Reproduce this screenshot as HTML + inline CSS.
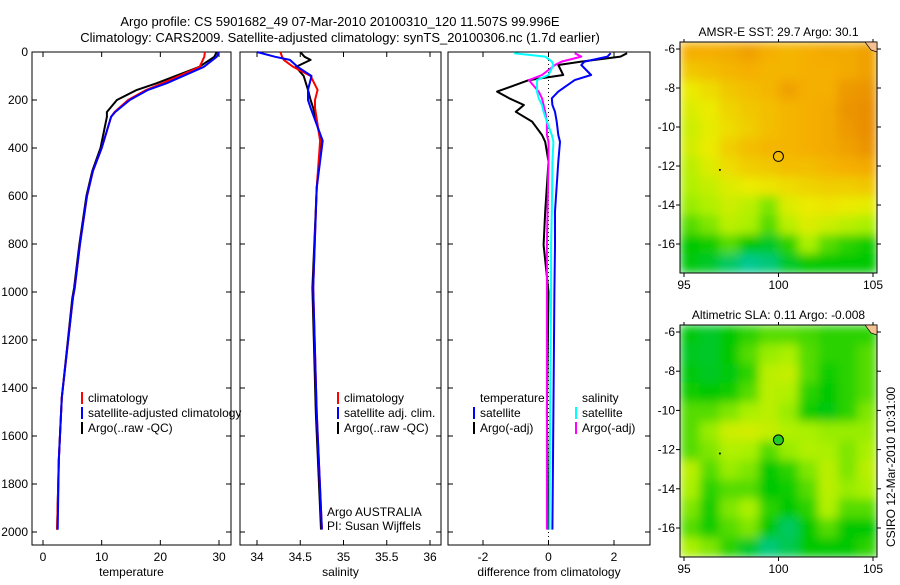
<!DOCTYPE html>
<html><head><meta charset="utf-8">
<style>
body{margin:0;background:#fff;font-family:"Liberation Sans",sans-serif;}
svg text{font-family:"Liberation Sans",sans-serif;fill:#000;}
</style></head>
<body>
<svg id="fig" width="900" height="580" viewBox="0 0 900 580" xmlns="http://www.w3.org/2000/svg">
<defs>
<filter id="blur" x="0" y="0" width="1" height="1"><feGaussianBlur stdDeviation="5" edgeMode="duplicate"/></filter>
<clipPath id="clip1"><rect x="680" y="42" width="197" height="231"/></clipPath>
<clipPath id="clip2"><rect x="680" y="325" width="197" height="232"/></clipPath>
</defs>
<rect width="900" height="580" fill="#fff"/>
<text x="340" y="26" font-size="13" text-anchor="middle">Argo profile: CS 5901682_49 07-Mar-2010 20100310_120 11.507S 99.996E</text>
<text x="340" y="42" font-size="13" text-anchor="middle">Climatology: CARS2009. Satellite-adjusted climatology: synTS_20100306.nc (1.7d earlier)</text>
<text transform="translate(895,547) rotate(-90)" font-size="12">CSIRO 12-Mar-2010 10:31:00</text>
<g id="g"></g>
</svg>
<script>
// ---- data ----
const depthTicks=[0,200,400,600,800,1000,1200,1400,1600,1800,2000];
const tempTicks=[0,10,20,30];
const salTicks=[34,34.5,35,35.5,36];
const diffTicks=[-2,0,2];
const tDepth=[0,20,62,130,158,200,250,270,400,496,600,800,983,1025,1440,1700,1990];
const tClim=[27.6,27.5,26.7,20.4,17.6,14.5,12.2,11.6,10.0,8.5,7.5,6.3,5.4,5.1,3.2,2.7,2.4];
const tSat=[30.0,29.6,27.4,21.1,17.9,14.8,12.3,11.6,10.0,8.5,7.5,6.3,5.4,5.1,3.2,2.7,2.5];
const tArgo=[29.6,29.2,26.6,19.4,16.0,12.6,10.9,10.9,9.8,8.4,7.4,6.2,5.3,5.0,3.2,2.7,2.4];
const sDepth=[0,20,33,62,100,158,200,233,370,567,983,1500,1990];
const sClim=[34.27,34.29,34.31,34.42,34.62,34.70,34.67,34.67,34.73,34.69,34.65,34.69,34.75];
const sSat=[34.0,34.21,34.38,34.47,34.63,34.59,34.59,34.62,34.76,34.69,34.65,34.69,34.75];
const sArgo=[34.5,34.55,34.62,34.45,34.54,34.59,34.62,34.65,34.74,34.69,34.64,34.68,34.74];
const dDepth=[5,19,40,54,96,117,165,193,221,249,290,346,374,457,665,804,999,1500,1990];
const dTempArgo=[2.4,2.2,1.0,0.3,0.45,-0.6,-1.57,-1.2,-0.75,-1.0,-0.5,-0.2,-0.1,0,-0.1,-0.15,0,-0.05,0];
const dTempSat=[1.9,1.8,1.1,1.0,1.3,0.8,0.3,0.1,0.12,0.2,0.25,0.3,0.35,0.3,0.2,0.2,0.18,0.15,0.12];
const dSalArgo=[0.8,1.0,0.4,0.2,-0.2,-0.6,-0.3,-0.2,-0.15,-0.1,-0.05,-0.05,0,0,-0.03,-0.05,-0.05,-0.05,-0.05];
const dSalSat=[-1.05,-0.1,0.1,0.15,0,-0.35,-0.35,-0.3,-0.2,-0.15,-0.05,0.1,0.15,0.12,0.1,0.08,0.08,0.05,0.03];
const mapLon=[95,100,105];
const mapLat=[-6,-8,-10,-12,-14,-16];
const sstGrid=[
[0.80,0.80,0.82,0.85,0.80,0.78,0.80,0.82,0.82,0.85],
[0.72,0.75,0.78,0.80,0.78,0.78,0.80,0.80,0.82,0.85],
[0.60,0.65,0.72,0.75,0.78,0.85,0.80,0.80,0.88,0.90],
[0.55,0.60,0.68,0.72,0.75,0.78,0.80,0.82,0.90,0.92],
[0.50,0.58,0.65,0.70,0.75,0.78,0.80,0.82,0.88,0.92],
[0.52,0.60,0.70,0.75,0.78,0.78,0.80,0.82,0.85,0.90],
[0.45,0.55,0.65,0.70,0.72,0.75,0.75,0.78,0.80,0.82],
[0.42,0.48,0.55,0.60,0.62,0.65,0.68,0.70,0.70,0.72],
[0.38,0.42,0.50,0.45,0.35,0.55,0.60,0.62,0.60,0.58],
[0.30,0.35,0.45,0.40,0.30,0.45,0.55,0.50,0.45,0.40],
[0.20,0.22,0.30,0.20,0.15,0.25,0.40,0.30,0.25,0.22],
[0.18,0.15,0.08,0.02,0.05,0.15,0.20,0.20,0.20,0.20]];
const slaGrid=[
[0.18,0.15,0.20,0.25,0.30,0.30,0.28,0.25,0.25,0.25],
[0.16,0.15,0.20,0.30,0.38,0.40,0.30,0.25,0.25,0.30],
[0.18,0.16,0.18,0.25,0.45,0.48,0.30,0.22,0.25,0.30],
[0.22,0.20,0.22,0.30,0.45,0.42,0.25,0.20,0.25,0.30],
[0.30,0.30,0.35,0.40,0.45,0.38,0.22,0.18,0.25,0.35],
[0.30,0.38,0.50,0.52,0.48,0.42,0.40,0.38,0.38,0.38],
[0.30,0.35,0.42,0.40,0.30,0.38,0.42,0.40,0.35,0.40],
[0.45,0.30,0.38,0.35,0.20,0.25,0.35,0.45,0.35,0.45],
[0.40,0.25,0.30,0.30,0.20,0.22,0.30,0.45,0.38,0.40],
[0.35,0.22,0.35,0.40,0.25,0.20,0.25,0.42,0.30,0.30],
[0.30,0.22,0.30,0.35,0.20,0.08,0.20,0.30,0.20,0.20],
[0.40,0.35,0.25,0.15,0.05,0.10,0.20,0.20,0.20,0.25]];

const NS="http://www.w3.org/2000/svg";
const g=document.getElementById('g');
function el(t,a,p){const e=document.createElementNS(NS,t);for(const k in a)e.setAttribute(k,a[k]);(p||g).appendChild(e);return e;}
const Y0=52,PX=0.24;
function yD(d){return Y0+PX*d;}

function panel(name,x0,x1,v0,p0,v1,p1,ticks,label,showY){
  const xs=v=>p0+(p1-p0)*(v-v0)/(v1-v0);
  const r=el('rect',{x:x0,y:52,width:x1-x0,height:493,fill:'none',stroke:'#000','stroke-width':1});
  
  
  ticks.forEach(t=>{
    const x=xs(t);
    el('line',{x1:x,x2:x,y1:545,y2:540,stroke:'#000'});
    el('line',{x1:x,x2:x,y1:52,y2:57,stroke:'#000'});
    const tx=el('text',{x:x,y:561,'font-size':12,'text-anchor':'middle'});tx.textContent=t;
    
    
  });
  const lb=el('text',{x:(x0+x1)/2,y:576,'font-size':12,'text-anchor':'middle'});lb.textContent=label;
  
  
  depthTicks.forEach(d=>{
    el('line',{x1:x0,x2:x0+5,y1:yD(d),y2:yD(d),stroke:'#000'});
    el('line',{x1:x1,x2:x1-5,y1:yD(d),y2:yD(d),stroke:'#000'});
    if(showY){const t=el('text',{x:x0-4,y:yD(d)+4,'font-size':12,'text-anchor':'end'});t.textContent=d;
      
      }
  });
  return xs;
}
function line(xs,vals,depths,col,w,name){
  const pts=vals.map((v,i)=>xs(v).toFixed(1)+','+yD(depths[i]).toFixed(1)).join(' ');
  const p=el('polyline',{points:pts,fill:'none',stroke:col,'stroke-width':w,'stroke-linejoin':'round'});
  
  
}
function legend(x,y,items,name){
  items.forEach((it,i)=>{
    const yy=y+i*15;
    if(it[1]) el('line',{x1:x,x2:x,y1:yy-10,y2:yy+2,stroke:it[1],'stroke-width':2});
    const t=el('text',{x:x+6,y:yy,'font-size':12});t.textContent=it[0];
    
    
  });
}
// temperature
const xt=panel('temperature',32,231,0,43,30,219,tempTicks,'temperature',true);
line(xt,tArgo,tDepth,'#000',2,'temp-argo-line');
line(xt,tClim,tDepth,'#f00',2,'temp-climatology-line');
line(xt,tSat,tDepth,'#00f',2,'temp-satellite-line');
legend(82,402,[['climatology','#f00'],['satellite-adjusted climatology','#00f'],['Argo(..raw -QC)','#000']],'temp-legend');
// salinity
const xsal=panel('salinity',240,441,34,257,36,430,salTicks,'salinity',false);
line(xsal,sArgo,sDepth,'#000',2,'sal-argo-line');
line(xsal,sClim,sDepth,'#f00',2,'sal-climatology-line');
line(xsal,sSat,sDepth,'#00f',2,'sal-satellite-line');
legend(338,402,[['climatology','#f00'],['satellite adj. clim.','#00f'],['Argo(..raw -QC)','#000']],'sal-legend');
let t1=el('text',{x:327,y:516,'font-size':12});t1.textContent='Argo AUSTRALIA';


let t2=el('text',{x:327,y:530,'font-size':12});t2.textContent='PI: Susan Wijffels';


// difference
const xd=panel('difference',448,650,-2,483,2,614,diffTicks,'difference from climatology',false);
el('line',{x1:xd(0),x2:xd(0),y1:52,y2:545,stroke:'#000','stroke-dasharray':'1,3'});
line(xd,dTempArgo,dDepth,'#000',2,'diff-temp-argo-line');
line(xd,dTempSat,dDepth,'#00f',2,'diff-temp-satellite-line');
line(xd,dSalArgo,dDepth,'#f0f',2,'diff-sal-argo-line');
line(xd,dSalSat,dDepth,'#0ff',2,'diff-sal-satellite-line');
legend(474,402,[['temperature',null],['satellite','#00f'],['Argo(-adj)','#000']],'diff-temp-legend');
legend(576,402,[['salinity',null],['satellite','#0ff'],['Argo(-adj)','#f0f']],'diff-sal-legend');

// maps
const stops=[[0,[0,200,160]],[0.2,[0,200,0]],[0.4,[170,240,0]],[0.6,[235,235,0]],[0.8,[245,175,0]],[1,[225,120,0]]];
function cmap(v){v=Math.max(0,Math.min(1,v));for(let i=1;i<stops.length;i++){if(v<=stops[i][0]){const a=stops[i-1],b=stops[i],f=(v-a[0])/(b[0]-a[0]);const c=a[1].map((x,k)=>Math.round(x+(b[1][k]-x)*f));return `rgb(${c[0]},${c[1]},${c[2]})`;}}return 'rgb(225,120,0)';}
function map(name,x0,y0,x1,y1,lat6,pxDeg,grid,title,clip){
  const lonS=v=>684+(873-684)*(v-95)/10;
  const latS=v=>lat6+(-6-v)*pxDeg;
  const rows=grid.length,cols=grid[0].length,cw=(x1-x0)/cols,ch=(y1-y0)/rows;
  const outer=el('g',{'clip-path':'url(#'+clip+')'});
  const cg=el('g',{filter:'url(#blur)'},outer);
  
  
  grid.forEach((row,i)=>row.forEach((v,j)=>{
    const c=el('rect',{x:x0+j*cw,y:y0+i*ch,width:cw+0.6,height:ch+0.6,fill:cmap(v)},cg);
    
    
  }));
  const f=el('rect',{x:x0,y:y0,width:x1-x0,height:y1-y0,fill:'none',stroke:'#000'});
  
  
  mapLon.forEach(l=>{const x=lonS(l);el('line',{x1:x,x2:x,y1:y1,y2:y1+4,stroke:'#000'});el('line',{x1:x,x2:x,y1:y0,y2:y0-3,stroke:'#000'});
    const t=el('text',{x:x,y:y1+16,'font-size':12,'text-anchor':'middle'});t.textContent=l;
    
    });
  mapLat.forEach(l=>{const y=latS(l);el('line',{x1:x0,x2:x0-4,y1:y,y2:y,stroke:'#000'});el('line',{x1:x1,x2:x1+4,y1:y,y2:y,stroke:'#000'});
    const t=el('text',{x:x0-5,y:y+4,'font-size':12,'text-anchor':'end'});t.textContent=l;
    
    });
  const tt=el('text',{x:(x0+x1)/2,y:y0-6,'font-size':12,'text-anchor':'middle'});tt.textContent=title;
  
  
  el('polygon',{points:`${x1-12},${y0} ${x1},${y0} ${x1},${y0+10} ${x1-6},${y0+8}`,fill:'#f5c090',stroke:'#000','stroke-width':0.7});
  return [lonS,latS];
}
let [lo1,la1]=map('sst-map',680,42,877,273,49,19.5,sstGrid,'AMSR-E SST: 29.7 Argo: 30.1','clip1');
let m1=el('circle',{cx:lo1(99.996),cy:la1(-11.507),r:5,fill:'none',stroke:'#000'});

el('circle',{cx:lo1(96.9),cy:la1(-12.2),r:1,fill:'#000'});
let [lo2,la2]=map('sla-map',680,325,877,557,332,19.6,slaGrid,'Altimetric SLA: 0.11 Argo: -0.008','clip2');
let m2=el('circle',{cx:lo2(99.996),cy:la2(-11.507),r:5,fill:'#2c2',stroke:'#000'});

el('circle',{cx:lo2(96.9),cy:la2(-12.2),r:1,fill:'#000'});
</script>
</body></html>
